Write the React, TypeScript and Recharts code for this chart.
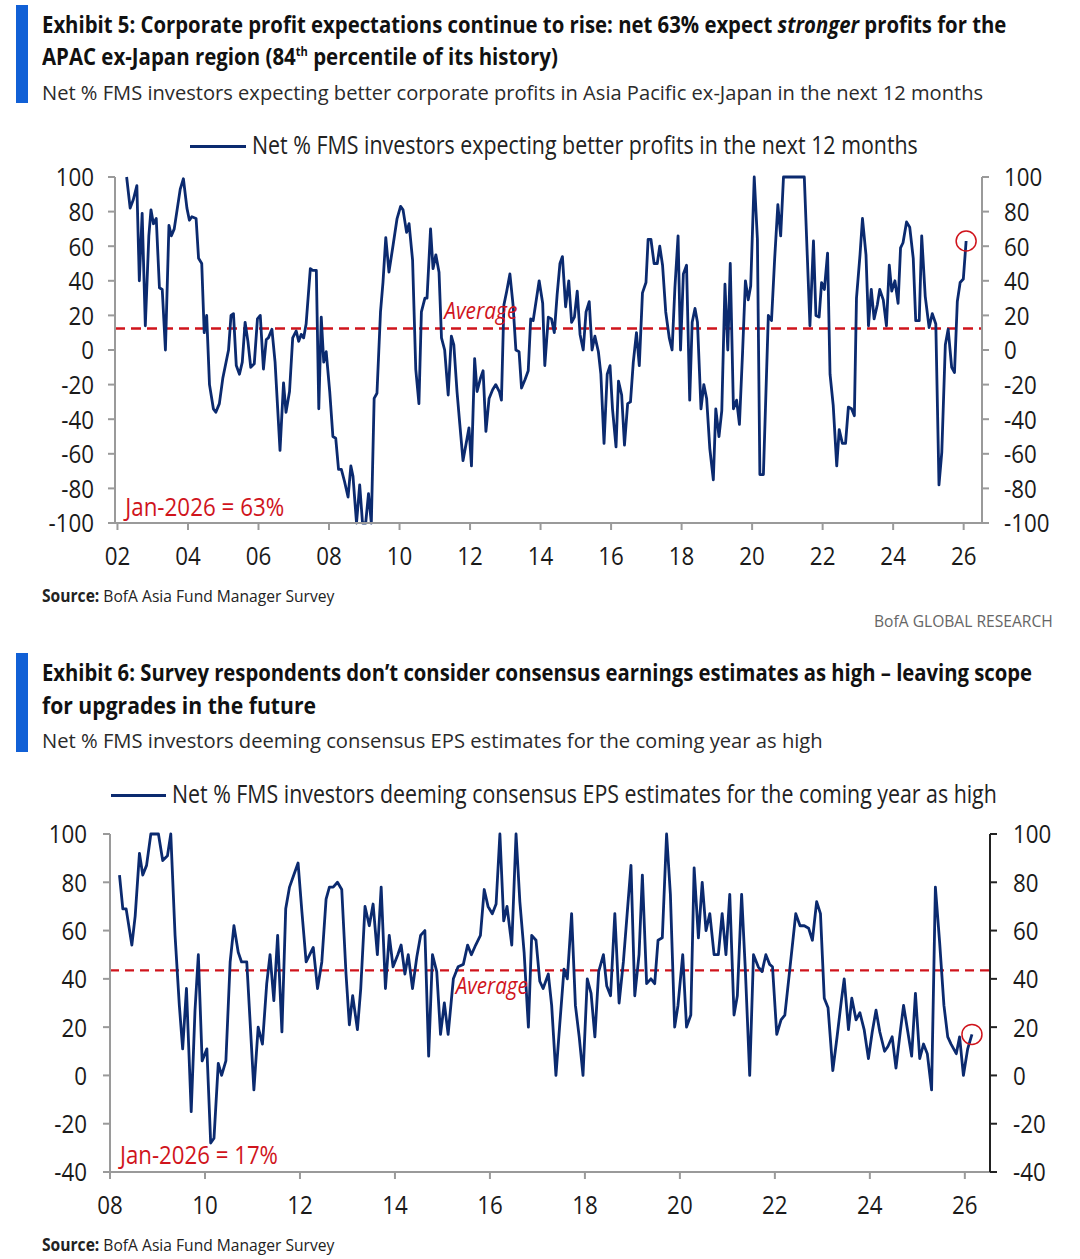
import React, { useLayoutEffect, useRef, useState } from "react";
import { LineChart, Line, XAxis, YAxis, ReferenceLine, ReferenceDot } from "recharts";

// ---------- Exhibit 5 data ----------
const years1 = [
  2002.26, 2002.36, 2002.45, 2002.55, 2002.62, 2002.70, 2002.79, 2002.89, 2002.95, 2003.02, 2003.10, 2003.19, 2003.27, 2003.36, 2003.46, 2003.53, 2003.61, 2003.78, 2003.87, 2003.97,
  2004.04, 2004.11, 2004.23, 2004.30, 2004.39, 2004.46, 2004.53, 2004.61, 2004.72, 2004.79, 2004.89, 2004.99, 2005.15, 2005.22, 2005.29, 2005.37, 2005.46, 2005.54, 2005.62, 2005.70,
  2005.78, 2005.88, 2005.97, 2006.05, 2006.14, 2006.22, 2006.28, 2006.38, 2006.47, 2006.61, 2006.71, 2006.78, 2006.88, 2006.97, 2007.07, 2007.14, 2007.21, 2007.28, 2007.35, 2007.47,
  2007.54, 2007.64, 2007.71, 2007.78, 2007.85, 2007.92, 2008.02, 2008.11, 2008.19, 2008.27, 2008.35, 2008.44, 2008.54, 2008.62, 2008.68, 2008.78, 2008.87, 2008.95, 2009.04, 2009.12,
  2009.20, 2009.28, 2009.36, 2009.46, 2009.53, 2009.61, 2009.70, 2009.82, 2009.93, 2010.03, 2010.10, 2010.20, 2010.27, 2010.37, 2010.46, 2010.55, 2010.62, 2010.72, 2010.78, 2010.88,
  2010.95, 2011.03, 2011.12, 2011.19, 2011.28, 2011.38, 2011.47, 2011.54, 2011.63, 2011.71, 2011.80, 2011.88, 2011.97, 2012.04, 2012.13, 2012.20, 2012.30, 2012.37, 2012.45, 2012.54,
  2012.64, 2012.73, 2012.83, 2012.89, 2012.96, 2013.04, 2013.13, 2013.22, 2013.30, 2013.39, 2013.46, 2013.56, 2013.65, 2013.72, 2013.79, 2013.96, 2014.06, 2014.12, 2014.22, 2014.31,
  2014.39, 2014.47, 2014.55, 2014.62, 2014.71, 2014.80, 2014.88, 2014.96, 2015.04, 2015.12, 2015.21, 2015.29, 2015.38, 2015.46, 2015.54, 2015.64, 2015.71, 2015.80, 2015.89, 2015.97,
  2016.04, 2016.14, 2016.21, 2016.30, 2016.38, 2016.47, 2016.55, 2016.63, 2016.72, 2016.80, 2016.89, 2016.99, 2017.05, 2017.13, 2017.22, 2017.31, 2017.38, 2017.46, 2017.55, 2017.65,
  2017.73, 2017.81, 2017.90, 2017.97, 2018.05, 2018.14, 2018.23, 2018.30, 2018.38, 2018.45, 2018.55, 2018.63, 2018.71, 2018.80, 2018.90, 2018.97, 2019.06, 2019.14, 2019.23, 2019.31,
  2019.38, 2019.47, 2019.56, 2019.64, 2019.73, 2019.81, 2019.89, 2019.96, 2020.06, 2020.15, 2020.22, 2020.32, 2020.46, 2020.55, 2020.64, 2020.73, 2020.81, 2020.89, 2020.98, 2021.48,
  2021.64, 2021.74, 2021.81, 2021.90, 2021.97, 2022.05, 2022.14, 2022.21, 2022.30, 2022.40, 2022.47, 2022.56, 2022.65, 2022.73, 2022.82, 2022.90, 2022.96, 2023.06, 2023.13, 2023.23,
  2023.30, 2023.38, 2023.46, 2023.55, 2023.62, 2023.72, 2023.81, 2023.89, 2023.96, 2024.05, 2024.14, 2024.21, 2024.28, 2024.38, 2024.47, 2024.57, 2024.64, 2024.74, 2024.81, 2024.91,
  2025.02, 2025.11, 2025.21, 2025.30, 2025.38, 2025.48, 2025.56, 2025.66, 2025.74, 2025.82, 2025.90, 2025.99, 2026.07,
];
const values1 = [
  100, 82, 87, 95, 40, 79, 14, 66, 81, 73, 76, 36, 35, 0, 72, 66, 70, 93, 99, 82,
  75, 77, 76, 53, 50, 10, 20, -20, -34, -36, -31, -16, 0, 20, 21, -9, -14, -7, 16, 5,
  -10, -8, 18, 20, -11, 6, 7, 12, -7, -58, -19, -36, -24, 7, 11, 5, 9, 7, 15, 47,
  46, 46, -34, 19, -7, -1, -24, -50, -51, -69, -69, -76, -85, -67, -73, -100, -78, -100, -100, -83,
  -100, -28, -25, 22, 39, 65, 45, 61, 76, 83, 81, 68, 73, 52, -11, -31, 22, 30, 30, 70,
  47, 55, 45, 7, 0, -26, 8, 3, -24, -43, -64, -55, -45, -67, -5, -24, -16, -12, -47, -28,
  -23, -20, -24, -29, 26, 34, 44, 26, 0, -1, -22, -17, -12, 18, 17, 40, 27, -9, 19, 18,
  10, 32, 50, 54, 25, 40, 16, 19, 34, 9, 0, 22, 28, 0, 8, -1, -14, -54, -14, -9,
  -34, -56, -18, -26, -55, -31, -30, -7, 10, -9, 33, 39, 64, 64, 50, 50, 60, 49, 22, 7,
  0, 36, 66, 0, 44, 49, -29, 16, 24, 16, -34, -20, -28, -57, -75, -34, -50, -35, 38, 0,
  50, -34, -29, -43, -1, 40, 29, 37, 100, 64, -72, -72, 20, 17, 53, 84, 66, 100, 100, 100,
  14, 63, 20, 19, 39, 35, 56, -14, -32, -67, -46, -54, -54, -33, -34, -38, 30, 55, 76, 55,
  14, 35, 18, 26, 35, 29, 14, 49, 34, 40, 27, 59, 62, 74, 71, 53, 17, 17, 66, 31,
  13, 21, 15, -78, -59, 3, 12, -10, -13, 28, 39, 41, 63,
];
const average1 = 12.5;
const xTicks1 = [2002, 2004, 2006, 2008, 2010, 2012, 2014, 2016, 2018, 2020, 2022, 2024, 2026];
const yTicks1 = [-100, -80, -60, -40, -20, 0, 20, 40, 60, 80, 100];

// ---------- Exhibit 6 data ----------
const years2 = [
  2008.20, 2008.27, 2008.34, 2008.46, 2008.53, 2008.62, 2008.69, 2008.77, 2008.86, 2009.02, 2009.11, 2009.21, 2009.28, 2009.37, 2009.46, 2009.53, 2009.61, 2009.71, 2009.79, 2009.86,
  2009.94, 2010.04, 2010.12, 2010.19, 2010.28, 2010.35, 2010.44, 2010.53, 2010.61, 2010.70, 2010.77, 2010.88, 2011.03, 2011.12, 2011.21, 2011.30, 2011.37, 2011.45, 2011.53, 2011.62,
  2011.70, 2011.78, 2011.87, 2011.96, 2012.04, 2012.13, 2012.28, 2012.37, 2012.46, 2012.55, 2012.62, 2012.70, 2012.79, 2012.88, 2012.97, 2013.04, 2013.11, 2013.21, 2013.28, 2013.37,
  2013.46, 2013.54, 2013.63, 2013.71, 2013.80, 2013.88, 2013.96, 2014.06, 2014.13, 2014.21, 2014.28, 2014.37, 2014.46, 2014.54, 2014.63, 2014.71, 2014.79, 2014.88, 2014.96, 2015.04,
  2015.12, 2015.23, 2015.33, 2015.44, 2015.53, 2015.61, 2015.70, 2015.80, 2015.88, 2015.96, 2016.05, 2016.13, 2016.21, 2016.29, 2016.36, 2016.46, 2016.55, 2016.63, 2016.72, 2016.81,
  2016.88, 2016.97, 2017.05, 2017.12, 2017.23, 2017.30, 2017.39, 2017.47, 2017.56, 2017.63, 2017.72, 2017.80, 2017.88, 2017.96, 2018.05, 2018.13, 2018.21, 2018.29, 2018.39, 2018.46,
  2018.54, 2018.63, 2018.72, 2018.81, 2018.89, 2018.97, 2019.05, 2019.14, 2019.21, 2019.30, 2019.39, 2019.47, 2019.54, 2019.63, 2019.72, 2019.80, 2019.89, 2019.96, 2020.06, 2020.14,
  2020.23, 2020.30, 2020.39, 2020.47, 2020.55, 2020.63, 2020.72, 2020.81, 2020.89, 2020.97, 2021.05, 2021.14, 2021.21, 2021.30, 2021.38, 2021.47, 2021.55, 2021.65, 2021.73, 2021.81,
  2021.89, 2021.95, 2022.04, 2022.13, 2022.21, 2022.32, 2022.44, 2022.53, 2022.62, 2022.71, 2022.79, 2022.88, 2022.96, 2023.04, 2023.12, 2023.22, 2023.31, 2023.40, 2023.46, 2023.55,
  2023.62, 2023.71, 2023.79, 2023.88, 2023.97, 2024.05, 2024.13, 2024.21, 2024.31, 2024.38, 2024.47, 2024.55, 2024.64, 2024.71, 2024.80, 2024.88, 2024.96, 2025.05, 2025.13, 2025.21,
  2025.30, 2025.38, 2025.47, 2025.56, 2025.64, 2025.71, 2025.82, 2025.89, 2025.97, 2026.06, 2026.15,
];
const values2 = [
  83, 69, 69, 54, 66, 92, 83, 87, 100, 100, 89, 91, 100, 58, 29, 11, 36, -15, 27, 50,
  6, 11, -28, -26, 5, 0, 6, 47, 62, 51, 47, 47, -6, 20, 13, 38, 50, 31, 58, 18,
  69, 78, 83, 88, 68, 47, 53, 36, 47, 73, 78, 78, 80, 77, 42, 21, 33, 19, 36, 70,
  62, 71, 50, 78, 36, 58, 45, 50, 54, 42, 50, 36, 49, 58, 60, 8, 50, 43, 17, 30,
  17, 40, 45, 46, 54, 50, 54, 58, 77, 70, 67, 71, 100, 64, 70, 54, 100, 72, 51, 20,
  58, 56, 39, 36, 42, 29, 0, 21, 44, 40, 67, 29, 16, 0, 40, 34, 16, 43, 50, 37,
  33, 67, 30, 47, 67, 87, 33, 50, 83, 38, 40, 38, 56, 57, 100, 75, 20, 29, 50, 20,
  25, 86, 57, 80, 60, 67, 50, 50, 67, 50, 75, 25, 33, 75, 43, 0, 50, 45, 43, 50,
  46, 45, 17, 23, 25, 45, 67, 62, 62, 61, 56, 72, 67, 32, 28, 2, 16, 31, 40, 19,
  32, 23, 26, 19, 7, 18, 27, 18, 10, 12, 16, 3, 18, 29, 18, 8, 34, 7, 13, 9,
  -6, 78, 55, 29, 16, 13, 9, 16, 0, 11, 17,
];
const average2 = 43.5;
const xTicks2 = [2008, 2010, 2012, 2014, 2016, 2018, 2020, 2022, 2024, 2026];
const yTicks2 = [-40, -20, 0, 20, 40, 60, 80, 100];

const data1 = years1.map((x, i) => ({ x, y: values1[i] }));
const data2 = years2.map((x, i) => ({ x, y: values2[i] }));

const FONT = "'Open Sans', 'Noto Sans', sans-serif";
const NAVY = "#0b2a6f";
const RED = "#d0141c";
const BLUE_BAR = "#1160d6";
const GRAY_AXIS = "#9a9a9a";
const TEXT = "#1a1a1a";
const TICK_FS = 26;
const TICK_SX = 0.86;

const yearFmt = (v: number) => String(Math.round(v)).slice(2);

// Text squeezed horizontally to a target width (the source uses a condensed face)
function Fit({ width, style, children }: { width: number; style?: React.CSSProperties; children: React.ReactNode }) {
  const ref = useRef<HTMLSpanElement>(null);
  const [s, setS] = useState(1);
  useLayoutEffect(() => {
    if (ref.current) {
      const w = ref.current.offsetWidth;
      if (w > 0) setS(width / w);
    }
  }, [width]);
  return (
    <span ref={ref} style={{ display: "inline-block", whiteSpace: "nowrap", transform: `scaleX(${s})`, transformOrigin: "0 50%", ...style }}>
      {children}
    </span>
  );
}

function Line1({ left, top, width, fs, lh, weight, color, children }: any) {
  return (
    <div style={{ position: "absolute", top, left, fontFamily: FONT, fontSize: fs, lineHeight: `${lh}px`, fontWeight: weight || 400, color, whiteSpace: "nowrap" }}>
      <Fit width={width}>{children}</Fit>
    </div>
  );
}

function YTick(props: any) {
  const { x, y, payload, textAnchor } = props;
  return (
    <g transform={`translate(${x},${y})`}>
      <text x={0} y={0} dy="0.36em" textAnchor={textAnchor} transform={`scale(${TICK_SX},1)`} fill={TEXT} fontSize={TICK_FS} fontFamily={FONT}>
        {payload.value}
      </text>
    </g>
  );
}

function XTick(props: any) {
  const { x, y, payload } = props;
  return (
    <g transform={`translate(${x},${y})`}>
      <text x={0} y={0} dy="0.72em" textAnchor="middle" transform={`scale(${TICK_SX},1)`} fill={TEXT} fontSize={TICK_FS} fontFamily={FONT}>
        {yearFmt(payload.value)}
      </text>
    </g>
  );
}

function Anno(props: any) {
  const { viewBox, text, width, italic, fs } = props;
  if (!viewBox) return null;
  return (
    <text x={viewBox.x} y={viewBox.y} dy="0.36em" textLength={width} lengthAdjust="spacingAndGlyphs" fill={RED}
      fontSize={fs} fontStyle={italic ? "italic" : "normal"} fontFamily={FONT}>
      {text}
    </text>
  );
}

function LegendRow({ left, top, lineW, textW, text }: { left: number; top: number; lineW: number; textW: number; text: string }) {
  return (
    <>
      <div style={{ position: "absolute", left, top: top - 1.5, width: lineW, height: 3, background: NAVY }} />
      <Line1 left={left + lineW + 6} top={top - 17} width={textW} fs={25} lh={30} color="#222">{text}</Line1>
    </>
  );
}

export default function App() {
  return (
    <div style={{ position: "absolute", left: 0, top: 0, width: 1080, height: 1259, background: "#fff", overflow: "hidden" }}>
      {/* Exhibit 5 */}
      <div style={{ position: "absolute", left: 16, top: 5, width: 12, height: 98, background: BLUE_BAR }} />
      <Line1 left={42} top={8} width={964} fs={24} lh={32} weight={700} color="#111">
        Exhibit 5: Corporate profit expectations continue to rise: net 63% expect <i>stronger</i> profits for the
      </Line1>
      <Line1 left={42} top={40.4} width={516} fs={24} lh={32} weight={700} color="#111">
        APAC ex-Japan region (84<sup style={{ fontSize: 13, lineHeight: 0 }}>th</sup> percentile of its history)
      </Line1>
      <Line1 left={42} top={77.5} width={941} fs={20.5} lh={28} color="#2a2a2a">
        Net % FMS investors expecting better corporate profits in Asia Pacific ex-Japan in the next 12 months
      </Line1>
      <LegendRow left={190} top={146} lineW={56} textW={666} text="Net % FMS investors expecting better profits in the next 12 months" />

      <div style={{ position: "absolute", left: 0, top: 153 }}>
        <LineChart width={1080} height={420} data={data1} margin={{ top: 24, right: 0, bottom: 0, left: 0 }}>
          <XAxis dataKey="x" type="number" domain={[2001.93, 2026.52]} ticks={xTicks1} height={50}
            stroke={GRAY_AXIS} strokeWidth={2} tickSize={7} tickMargin={16} tick={<XTick />} allowDataOverflow interval={0} />
          <YAxis yAxisId="l" orientation="left" domain={[-100, 100]} ticks={yTicks1} width={115} stroke={GRAY_AXIS} strokeWidth={2}
            tickSize={7} tickMargin={14} tick={<YTick />} interval={0} />
          <YAxis yAxisId="r" orientation="right" domain={[-100, 100]} ticks={yTicks1} width={98} stroke={GRAY_AXIS} strokeWidth={2}
            tickSize={7} tickMargin={15} tick={<YTick />} interval={0} />
          <ReferenceLine yAxisId="l" y={average1} stroke={RED} strokeWidth={2.5} strokeDasharray="10 6" />
          <Line yAxisId="r" dataKey="y" type="linear" stroke="none" dot={false} activeDot={false} isAnimationActive={false} />
          <Line yAxisId="l" dataKey="y" type="linear" stroke={NAVY} strokeWidth={2.8} dot={false} isAnimationActive={false} strokeLinejoin="round" />
          <ReferenceDot yAxisId="l" x={2011.27} y={22.5} r={0} fill="none" stroke="none"
            label={<Anno text="Average" width={73} fs={23} italic />} />
          <ReferenceDot yAxisId="l" x={2002.22} y={-90.75} r={0} fill="none" stroke="none"
            label={<Anno text="Jan-2026 = 63%" width={159} fs={25} />} />
          <ReferenceDot yAxisId="l" x={years1[years1.length - 1]} y={values1[values1.length - 1]} r={10} fill="none" stroke={RED} strokeWidth={1.5} />
        </LineChart>
      </div>
      <Line1 left={42} top={585.4} width={292} fs={17} lh={22} color="#222">
        <b>Source:</b> BofA Asia Fund Manager Survey
      </Line1>
      <Line1 left={874} top={610.4} width={179} fs={17} lh={22} color="#666">
        BofA GLOBAL RESEARCH
      </Line1>

      {/* Exhibit 6 */}
      <div style={{ position: "absolute", left: 16, top: 653, width: 12, height: 99, background: BLUE_BAR }} />
      <Line1 left={42} top={656.2} width={990} fs={24} lh={32} weight={700} color="#111">
        Exhibit 6: Survey respondents don’t consider consensus earnings estimates as high – leaving scope
      </Line1>
      <Line1 left={42} top={689.2} width={274} fs={24} lh={32} weight={700} color="#111">
        for upgrades in the future
      </Line1>
      <Line1 left={42} top={726} width={781} fs={20.5} lh={28} color="#2a2a2a">
        Net % FMS investors deeming consensus EPS estimates for the coming year as high
      </Line1>
      <LegendRow left={111} top={795} lineW={55} textW={825} text="Net % FMS investors deeming consensus EPS estimates for the coming year as high" />

      <div style={{ position: "absolute", left: 0, top: 810 }}>
        <LineChart width={1080} height={412} data={data2} margin={{ top: 24, right: 0, bottom: 0, left: 0 }}>
          <XAxis dataKey="x" type="number" domain={[2008, 2026.53]} ticks={xTicks2} height={50}
            stroke={GRAY_AXIS} strokeWidth={2} tickSize={7} tickMargin={16} tick={<XTick />} allowDataOverflow interval={0} />
          <YAxis yAxisId="l" orientation="left" domain={[-40, 100]} ticks={yTicks2} width={110} stroke={GRAY_AXIS} strokeWidth={2}
            tickSize={7} tickMargin={16} tick={<YTick />} interval={0} />
          <YAxis yAxisId="r" orientation="right" domain={[-40, 100]} ticks={yTicks2} width={90} stroke="#222" strokeWidth={2}
            tickSize={7} tickMargin={16} tick={<YTick />} interval={0} />
          <ReferenceLine yAxisId="l" y={average2} stroke={RED} strokeWidth={2.3} strokeDasharray="9 6" />
          <Line yAxisId="r" dataKey="y" type="linear" stroke="none" dot={false} activeDot={false} isAnimationActive={false} />
          <Line yAxisId="l" dataKey="y" type="linear" stroke={NAVY} strokeWidth={2.8} dot={false} isAnimationActive={false} strokeLinejoin="round" />
          <ReferenceDot yAxisId="l" x={2015.28} y={37} r={0} fill="none" stroke="none"
            label={<Anno text="Average" width={72} fs={23} italic />} />
          <ReferenceDot yAxisId="l" x={2008.21} y={-33} r={0} fill="none" stroke="none"
            label={<Anno text="Jan-2026 = 17%" width={158} fs={25} />} />
          <ReferenceDot yAxisId="l" x={years2[years2.length - 1]} y={values2[values2.length - 1]} r={10} fill="none" stroke={RED} strokeWidth={1.5} />
        </LineChart>
      </div>
      <Line1 left={42} top={1234.4} width={292} fs={17} lh={22} color="#222">
        <b>Source:</b> BofA Asia Fund Manager Survey
      </Line1>
    </div>
  );
}
